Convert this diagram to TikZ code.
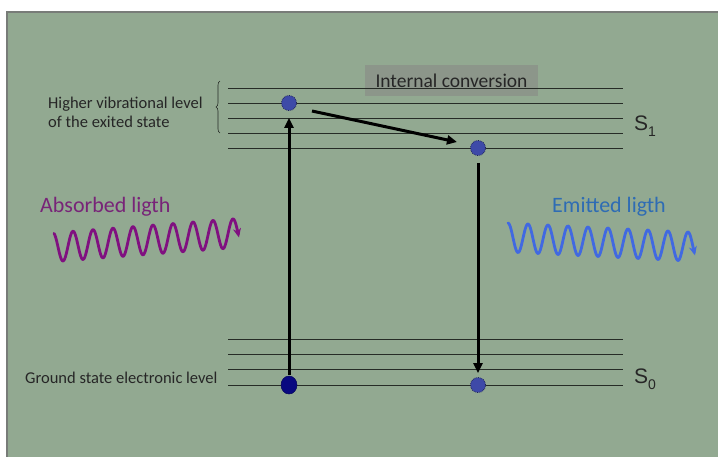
\documentclass[tikz,border=0pt]{standalone}
\usepackage{fontspec}
\setmainfont{Carlito}
\newfontfamily\arialf{Liberation Sans}
\usetikzlibrary{arrows.meta,decorations.pathreplacing,calc,shapes.geometric}
\definecolor{bggreen}{RGB}{146,169,145}
\definecolor{bordergray}{RGB}{120,124,120}
\definecolor{levelc}{RGB}{38,44,38}
\definecolor{icgray}{RGB}{140,150,138}
\definecolor{txtdark}{RGB}{38,38,38}
\definecolor{absp}{RGB}{128,16,128}
\definecolor{abst}{RGB}{120,36,120}
\definecolor{emib}{RGB}{65,105,225}
\definecolor{emit}{RGB}{46,108,180}
\definecolor{dotfill}{RGB}{62,74,168}
\definecolor{dotedge}{RGB}{30,34,90}
\definecolor{navy}{RGB}{8,8,128}
\tikzset{
  level/.style={draw=levelc, line width=1pt},
  excdot/.style={circle, fill=dotfill, draw=dotedge, densely dotted, line width=0.8pt, minimum size=15pt, inner sep=0pt},
  gnddot/.style={ellipse, fill=navy, draw=navy!70!black, line width=0.5pt, minimum width=16pt, minimum height=18pt, inner sep=0pt},
  transarrow/.style={draw=black, line width=3pt, -{Triangle[length=10pt,width=9pt]}},
  lbl/.style={inner sep=0pt, anchor=base west, text=txtdark},
  slabel/.style={inner sep=0pt, anchor=base west, text=txtdark, font=\arialf\fontsize{21}{24}\selectfont},
}
\begin{document}
\begin{tikzpicture}[x=1pt,y=-1pt]
\useasboundingbox (0,0) rectangle (718,456);
\fill[white] (0,0) rectangle (718,456);
\draw[fill=bggreen, draw=bordergray, line width=1.6pt] (7,12) rectangle (730,470);

% internal conversion box
\node[fill=icgray, minimum width=173pt, minimum height=31pt, inner sep=0pt, text=txtdark,
      font=\fontsize{19.5}{22}\selectfont] (ic) at (451.5,80.5) {Internal conversion};

% S1 levels
\foreach \yy in {88,103,118,133,148} \draw[level] (228,\yy) -- (623,\yy);
% S0 levels
\foreach \yy in {339,354,369,385} \draw[level] (228,\yy) -- (623,\yy);

% brace
\draw[draw=levelc, line width=0.6pt, decorate, decoration={brace, amplitude=4pt}] (220,133) -- (220,81);

% labels
\node[lbl, font=\fontsize{16.5}{19}\selectfont] (hv) at (48,108) {Higher vibrational level};
\node[lbl, font=\fontsize{16.5}{19}\selectfont] (hv2) at (48,127) {of the exited state};
\node[lbl, font=\fontsize{16.5}{19}\selectfont] (gs) at (25,383) {Ground state electronic level};
\node[slabel] (s1) at (634,130) {S\raisebox{-0.3em}{\fontsize{14}{16}\selectfont 1}};
\node[slabel] (s0) at (634,383) {S\raisebox{-0.3em}{\fontsize{14}{16}\selectfont 0}};
\node[lbl, text=abst, font=\fontsize{22}{26}\selectfont] (abs) at (40,212) {Absorbed ligth};
\node[lbl, text=emit, font=\fontsize{22}{26}\selectfont] (emi) at (552,212) {Emitted ligth};

% dots
\node[excdot] (u1) at (289,103) {};
\node[excdot] (u2) at (478,148) {};
\node[gnddot] (g1) at (289,385) {};
\node[excdot] (g2) at (478,385) {};

% transitions
\draw[transarrow, shorten >=7pt, shorten <=1pt] (g1.north) -- (u1.south);
\coordinate (icstart) at ($(u1)+(23,8)$);
\coordinate (icend) at ($(u2)+(-21,-6)$);
\draw[transarrow] (icstart) -- (icend);
\draw[transarrow, shorten <=7pt, shorten >=4pt] (u2.south) -- (g2.north);

% waves
\draw[absp, line width=2.8pt, line cap=round, line join=round, -{Stealth[length=9pt,width=8pt]}]
  plot[domain=54:239, samples=260] (\x,{246.5-0.077*(\x-63)+14.5*cos(18*(\x-63))});
\draw[emib, line width=2.8pt, line cap=round, line join=round, -{Stealth[length=9pt,width=8pt]}]
  plot[domain=508:695, samples=260] (\x,{238+0.05*(\x-518)+14.5*cos(18*(\x-518))});
\end{tikzpicture}
\end{document}
